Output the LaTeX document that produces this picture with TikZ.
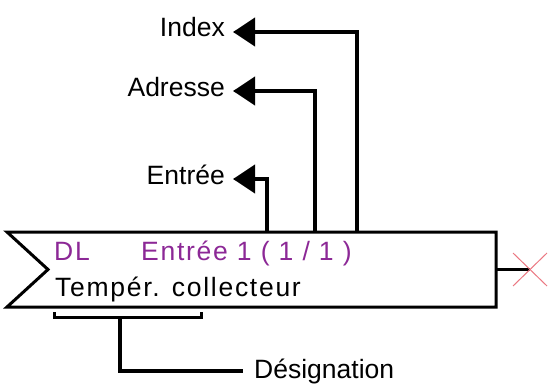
\documentclass[tikz,border=0pt]{standalone}
\usepackage{fontspec}
\setmainfont{Liberation Sans}
\usetikzlibrary{arrows.meta}
\definecolor{dlpurple}{RGB}{140,40,150}
\definecolor{xred}{RGB}{235,120,130}

\begin{document}
\begin{tikzpicture}[line join=miter,x=1pt,y=-1pt,
	lbl/.style={font=\fontsize{26.5}{30}\selectfont,inner sep=0pt},
	boxtxt/.style={font=\fontsize{26.5}{30}\selectfont\addfontfeature{LetterSpace=6.5},inner sep=0pt},
	feed/.style={line width=4pt,-{Triangle[length=22pt,width=28pt]}}]
		\useasboundingbox (0,0) rectangle (548,385);
		% block
		\coordinate (bNW) at (7,232);
		\coordinate (bNE) at (496,232);
		\coordinate (bSE) at (496,307);
		\coordinate (bSW) at (7,307);
		\coordinate (bNotch) at (48,269.5);
		\draw [line width=3pt] (bNW)-- (bNE)-- (bSE)-- (bSW)-- (bNotch)-- cycle;
		\node[boxtxt,text=dlpurple,anchor=base west] (dl) at (54,260) {DL};
		\node[boxtxt,text=dlpurple,anchor=base west] (input) at (141,260) {Entrée 1 ( 1 / 1 )};
		\node[boxtxt,anchor=base west] (desc) at (55,296) {Tempér. collecteur};
		% output
		\coordinate (out) at (530,269.5);
		\draw [line width=3pt] (496,269.5)-- (out);
		\draw [xred,line width=1pt] (513,253)-- (547,286) (513,286)-- (547,253);
		% labels above
		\node[lbl,anchor=base east] (index) at (225,37) {Index};
		\node[lbl,anchor=base east] (addr) at (225,96) {Adresse};
		\node[lbl,anchor=base east] (entry) at (225,184) {Entrée};
		\coordinate (tIndex) at (233,32);
		\coordinate (tAddr) at (233,91);
		\coordinate (tEntry) at (233,179);
		\draw [feed] (357,232) |- (tIndex);
		\draw [feed] (315,232) |- (tAddr);
		\draw [feed] (267,232) |- (tEntry);
		% designation
		\coordinate (brL) at (54,312);
		\coordinate (brR) at (201,312);
		\draw [line width=3pt] (brL)-- (54,317)-- (201,317)-- (brR);
		\node[lbl,anchor=base west] (name) at (254,378.5) {Désignation};
		\draw [line width=4pt] (120,317)|- (243,371);
\end{tikzpicture}
\end{document}
